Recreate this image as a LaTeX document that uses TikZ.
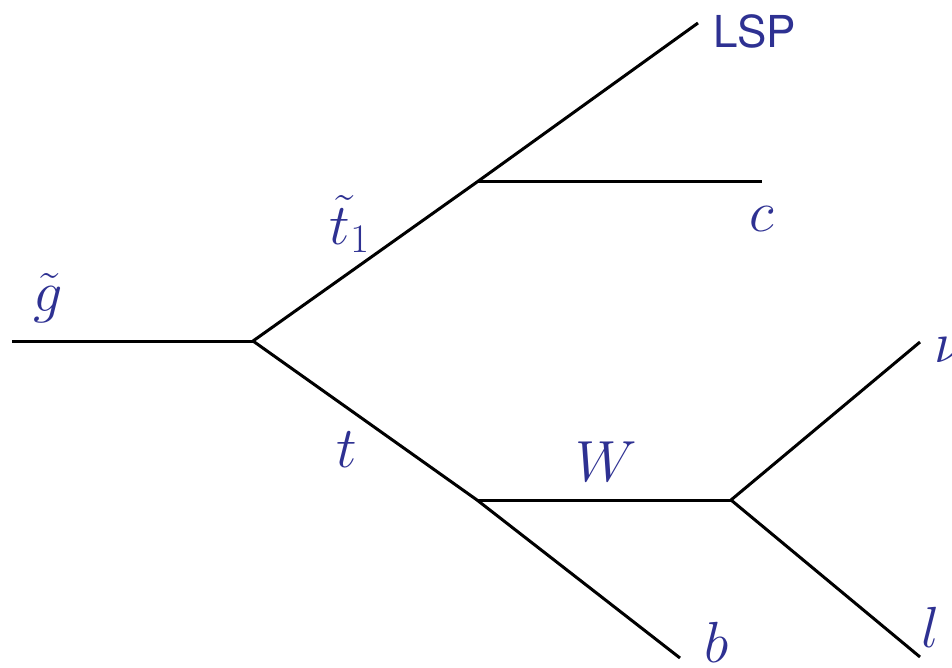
\documentclass[tikz,border=0pt]{standalone}
\usepackage{fix-cm}
\usepackage{amsmath}
\usepackage{fontspec}
\setsansfont{TeX Gyre Heros}
\usepackage{xcolor}
\usepackage{tikz}

\definecolor{partblue}{RGB}{46,49,146}

\tikzset{
	prop/.style={line width=1.5pt},
	plabel/.style={text=partblue, inner sep=0pt, font=\fontsize{29}{34}\selectfont},
	slabel/.style={text=partblue, inner sep=0pt, font=\sffamily\fontsize{22}{26}\selectfont}
}

\begin{document}
\begin{tikzpicture}[x=0.5pt, y=-0.5pt]
		
		% Fix the page to the reference size
		\useasboundingbox (0,0) rectangle (952,668);
		
		% Vertices and free ends
		\coordinate (In)   at (12, 341);    % incoming gluino
		\coordinate (V1)   at (253, 341);   % gluino decay
		\coordinate (V2)   at (477, 182);   % stop decay
		\coordinate (V3)   at (477, 500);   % top decay
		\coordinate (V4)   at (731, 500);   % W decay
		\coordinate (LSP)  at (698, 23);
		\coordinate (C)    at (762, 182);
		\coordinate (B)    at (680, 658);
		\coordinate (Nu)   at (920, 342);
		\coordinate (L)    at (920, 657);
		
		% Lines
		\draw[prop] (In) -- (V1);
		\draw[prop] (V1) -- (V2) -- (LSP);
		\draw[prop] (V2) -- (C);
		\draw[prop] (V1) -- (V3) -- (B);
		\draw[prop] (V3) -- (V4);
		\draw[prop] (V4) -- (Nu);
		\draw[prop] (V4) -- (L);
		
		% Labels
		\node[plabel] (gluino) at (48, 298)  {$\tilde{g}$};
		\node[plabel] (stop)   at (350, 224) {$\tilde{t}_1$};
		\node[plabel] (top)    at (347, 450) {$t$};
		\node[plabel] (wboson) at (606, 462) {$W$};
		\node[plabel] (charm)  at (762, 219) {$c$};
		\node[plabel] (bottom) at (717, 642) {$b$};
		\node[plabel] (lepton) at (931, 627) {$l$};
		\node[plabel] (nu)     at (950, 350) {$\nu$};
		\node[slabel] (lsp)    at (755, 31)  {LSP};
		
	\end{tikzpicture}
\end{document}
